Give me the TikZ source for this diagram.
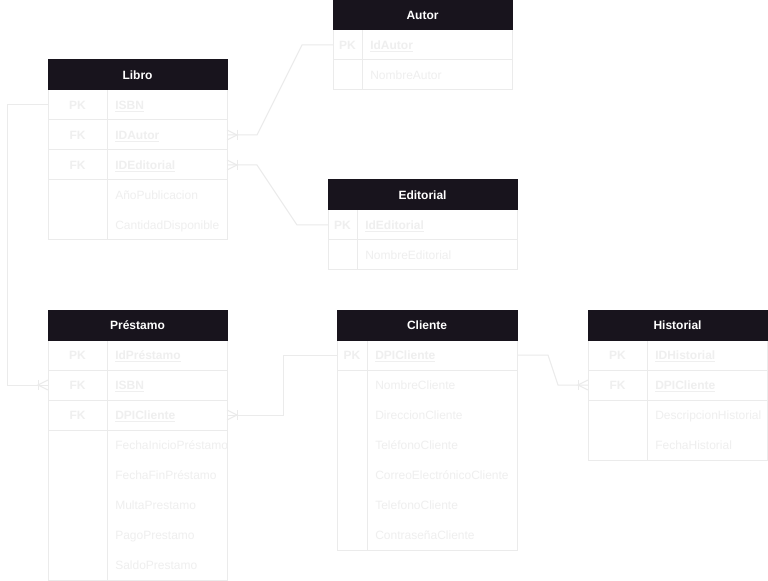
\documentclass[tikz,border=0pt]{standalone}
\usepackage{fontspec}
\setmainfont{Liberation Sans}
\usetikzlibrary{fit,calc}
\definecolor{hdrcol}{HTML}{18141D}
\definecolor{txtcol}{HTML}{EFEFEF}
\definecolor{lncol}{HTML}{EBEBEB}
\newcommand\myul[1]{\setbox0\hbox{#1}\rlap{\rule[-1.6pt]{\wd0}{0.7pt}}\box0}
\tikzset{
 ln/.style={draw=lncol, line width=0.75pt},
 hdr/.style={fill=hdrcol, draw=hdrcol, inner sep=0pt, outer sep=0pt, line width=0.75pt},
 bodybox/.style={ln, inner sep=0pt, outer sep=0pt},
 rowbox/.style={inner sep=0pt, outer sep=0pt},
 hdrtxt/.style={text=white, font=\fontsize{9}{11}\selectfont\bfseries, inner sep=0pt},
 keytxt/.style={text=txtcol, font=\fontsize{9}{11}\selectfont\bfseries, inner sep=0pt, text height=6.5pt, text depth=0pt},
 keyattr/.style={text=txtcol, font=\fontsize{9}{11}\selectfont\bfseries, inner sep=0pt, anchor=west, text height=6.5pt, text depth=0pt},
 attrtxt/.style={text=txtcol, font=\fontsize{9}{11}\selectfont, inner sep=0pt, anchor=west, text height=6.5pt, text depth=0pt},
 crowR/.pic={\draw[ln] (0,-5) -- (10,0) -- (0,5); \draw[ln] (10,-5) -- (10,5);},
}
\newcommand\erhead[5]{%
 \node[hdr, fit={(#2,#4) (#3,#4+30)}] (#1) {};
 \node[hdrtxt] (#1-t) at (#1.center) {#5};
}
\newcommand\erbody[6]{%
 \node[bodybox, fit={(#2,#5) (#3,#6)}] (#1) {};
 \draw[ln] (#4,#5) -- (#4,#6);
}
\newcommand\erkey[7]{%
 \node[rowbox, fit={(#2,#5) (#3,#5+30)}] (#1) {};
 \draw[ln] (#1.south west) -- (#1.south east);
 \node[keytxt] (#1-k) at ({(#2+#4)/2},#5+15) {#6};
 \node[keyattr] (#1-a) at (#4+8,#5+15) {\myul{#7}};
}
\newcommand\erattr[4]{%
 \node[attrtxt] (#1) at (#2+8,#3) {#4};
}
\begin{document}
\begin{tikzpicture}[x=0.75pt, y=-0.75pt]
\fill[white] (0,0) rectangle (768,581);
\useasboundingbox (0,0) rectangle (768,581);
% Libro
\erbody{libro}{48}{227}{107}{90}{240}
\erhead{libroH}{48}{227}{60}{Libro}
\erkey{libroISBN}{48}{227}{107}{90}{PK}{ISBN}
\erkey{libroIDAutor}{48}{227}{107}{120}{FK}{IDAutor}
\erkey{libroIDEditorial}{48}{227}{107}{150}{FK}{IDEditorial}
\erattr{libroA1}{107}{195}{AñoPublicacion}
\erattr{libroA2}{107}{225}{CantidadDisponible}
% Autor
\erbody{autor}{333}{512}{362}{30}{90}
\erhead{autorH}{333}{512}{0}{Autor}
\erkey{autorId}{333}{512}{362}{30}{PK}{IdAutor}
\erattr{autorA1}{362}{75}{NombreAutor}
% Editorial
\erbody{editorial}{328}{517}{357}{210}{270}
\erhead{editorialH}{328}{517}{180}{Editorial}
\erkey{editorialId}{328}{517}{357}{210}{PK}{IdEditorial}
\erattr{editorialA1}{357}{255}{NombreEditorial}
% Prestamo
\erbody{prestamo}{48}{227}{107}{340}{580}
\erhead{prestamoH}{48}{227}{310}{Préstamo}
\erkey{prestamoId}{48}{227}{107}{340}{PK}{IdPréstamo}
\erkey{prestamoISBN}{48}{227}{107}{370}{FK}{ISBN}
\erkey{prestamoDPI}{48}{227}{107}{400}{FK}{DPICliente}
\erattr{prestamoA1}{107}{445}{FechaInicioPréstamo}
\erattr{prestamoA2}{107}{475}{FechaFinPréstamo}
\erattr{prestamoA3}{107}{505}{MultaPrestamo}
\erattr{prestamoA4}{107}{535}{PagoPrestamo}
\erattr{prestamoA5}{107}{565}{SaldoPrestamo}
% Cliente
\erbody{cliente}{337}{517}{367}{340}{550}
\erhead{clienteH}{337}{517}{310}{Cliente}
\erkey{clienteDPI}{337}{517}{367}{340}{PK}{DPICliente}
\erattr{clienteA1}{367}{385}{NombreCliente}
\erattr{clienteA2}{367}{415}{DireccionCliente}
\erattr{clienteA3}{367}{445}{TeléfonoCliente}
\erattr{clienteA4}{367}{475}{CorreoElectrónicoCliente}
\erattr{clienteA5}{367}{505}{TelefonoCliente}
\erattr{clienteA6}{367}{535}{ContraseñaCliente}
% Historial
\erbody{historial}{588}{767}{647}{340}{460}
\erhead{historialH}{588}{767}{310}{Historial}
\erkey{historialId}{588}{767}{647}{340}{PK}{IDHistorial}
\erkey{historialDPI}{588}{767}{647}{370}{FK}{DPICliente}
\erattr{historialA1}{647}{415}{DescripcionHistorial}
\erattr{historialA2}{647}{445}{FechaHistorial}
% connectors
\draw[ln] (autorId.west) -- ++(-31,0) -- ($(libroIDAutor.east)+(30,0)$) -- (libroIDAutor.east);
\draw[ln] (editorialId.west) -- ++(-31,0) -- ($(libroIDEditorial.east)+(30,0)$) -- (libroIDEditorial.east);
\draw[ln] (libroISBN.west) -- ++(-41,0) |- (prestamoISBN.west);
\draw[ln] (clienteDPI.west) -- ++(-54,0) |- (prestamoDPI.east);
\draw[ln] (clienteDPI.east) -- ++(31,0) -- ($(historialDPI.west)+(-30,0)$) -- (historialDPI.west);
\pic at (libroIDAutor.east) {crowR};
\pic at (libroIDEditorial.east) {crowR};
\pic at (prestamoDPI.east) {crowR};
\pic[xscale=-1] at (prestamoISBN.west) {crowR};
\pic[xscale=-1] at (historialDPI.west) {crowR};
\end{tikzpicture}
\end{document}
